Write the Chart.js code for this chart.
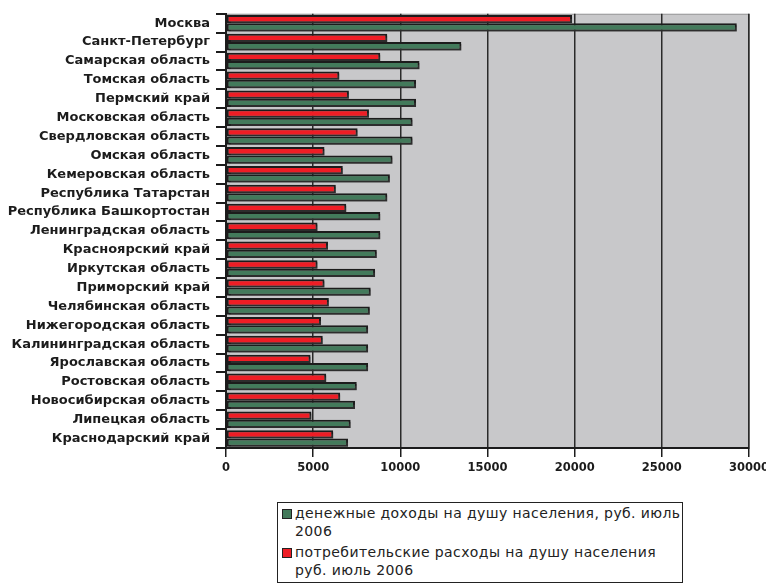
<!DOCTYPE html>
<html>
<head>
<meta charset="utf-8">
<script src="https://cdn.jsdelivr.net/npm/chart.js@4/dist/chart.umd.min.js"></script>
<style>
    body { margin: 0; background: #fff; }
    #wrap { position: relative; width: 766px; height: 586px; }
    #legend {
        position: absolute; left: 277px; top: 502px; width: 400px; height: 76px;
        border: 1.5px solid #222; background: #fff; padding: 1px 0 2px 4px;
        font: 14px "DejaVu Sans", sans-serif; letter-spacing: 0.4px; color: #222; line-height: 18px;
    }
    #legend .item { display: flex; align-items: flex-start; margin: 0 0 3px 0; }
    #legend .sw { width: 8px; height: 8px; border: 1px solid #222; margin: 5px 3px 0 0; flex: none; }
</style>
</head>
<body>
<div id="wrap">
    <canvas id="chart" width="766" height="586"></canvas>
    <div id="legend"></div>
</div>
<script>
'use strict';

const regions = [
    'Москва', 'Санкт-Петербург', 'Самарская область', 'Томская область', 'Пермский край',
    'Московская область', 'Свердловская область', 'Омская область', 'Кемеровская область',
    'Республика Татарстан', 'Республика Башкортостан', 'Ленинградская область',
    'Красноярский край', 'Иркутская область', 'Приморский край', 'Челябинская область',
    'Нижегородская область', 'Калининградская область', 'Ярославская область',
    'Ростовская область', 'Новосибирская область', 'Липецкая область', 'Краснодарский край'
];

// денежные доходы на душу населения
const income = [29300, 13500, 11100, 10900, 10900, 10700, 10700, 9550, 9400, 9250, 8850,
    8850, 8650, 8550, 8300, 8250, 8150, 8150, 8150, 7500, 7400, 7150, 7000];

// потребительские расходы на душу населения
const spending = [19850, 9250, 8850, 6500, 7050, 8200, 7550, 5650, 6700, 6300, 6900,
    5250, 5850, 5250, 5650, 5900, 5450, 5550, 4850, 5750, 6550, 4900, 6150];

const xTicks = [0, 5000, 10000, 15000, 20000, 25000, 30000];

const incomeLabel = 'денежные доходы на душу населения, руб. июль 2006';
const spendingLabel = 'потребительские расходы на душу населения руб. июль 2006';

const colors = {
    green: '#437a5b',
    red: '#ee1d25',
    border: '#1c1c1c',
    plotBg: '#c8c8ca'
};

// gray plot background + bar shadows
const plotBackground = {
    id: 'plotBackground',
    beforeDraw: function (chart) {
        const a = chart.chartArea;
        const ctx = chart.ctx;
        ctx.save();
        ctx.fillStyle = colors.plotBg;
        ctx.fillRect(a.left, a.top, a.right - a.left, a.bottom - a.top);
        ctx.strokeStyle = '#9a9a9a';
        ctx.lineWidth = 1;
        ctx.strokeRect(a.left + 0.5, a.top + 0.5, a.right - a.left, a.bottom - a.top);
        ctx.restore();
    },
    beforeDatasetsDraw: function (chart) {
        const ctx = chart.ctx;
        ctx.save();
        ctx.shadowColor = 'rgba(60,60,60,0.55)';
        ctx.shadowOffsetX = 2;
        ctx.shadowOffsetY = 2;
        ctx.shadowBlur = 0;
    },
    afterDatasetsDraw: function (chart) {
        chart.ctx.restore();
    }
};

const chart = new Chart(document.getElementById('chart'), {
    type: 'bar',
    data: {
        labels: regions,
        datasets: [
            {
                label: spendingLabel,
                data: spending,
                backgroundColor: colors.red,
                borderColor: colors.border,
                borderWidth: 2,
                borderSkipped: false
            },
            {
                label: incomeLabel,
                data: income,
                backgroundColor: colors.green,
                borderColor: colors.border,
                borderWidth: 2,
                borderSkipped: false
            }
        ]
    },
    options: {
        indexAxis: 'y',
        responsive: false,
        animation: false,
        datasets: {
            bar: { categoryPercentage: 0.88, barPercentage: 1.0 }
        },
        layout: {
            padding: { top: 8, right: 0, bottom: 90, left: 0 }
        },
        scales: {
            x: {
                min: 0,
                max: 30000,
                afterBuildTicks: function (scale) {
                    scale.ticks = xTicks.map(v => ({ value: v }));
                },
                afterFit: function (scale) {
                    scale.height = 48;
                    scale.paddingRight = 17;
                },
                grid: {
                    color: '#2a2a2a',
                    lineWidth: 1.5,
                    tickLength: 9,
                    tickColor: '#1c1c1c'
                },
                border: { color: '#1c1c1c', width: 2 },
                ticks: {
                    color: '#1c1c1c',
                    padding: 4,
                    maxRotation: 0,
                    callback: function (value) { return String(value); },
                    font: { family: 'DejaVu Sans', size: 11.5, weight: 'bold' }
                }
            },
            y: {
                afterFit: function (scale) { scale.width = 226; },
                grid: {
                    drawOnChartArea: false,
                    offset: true,
                    tickLength: 10,
                    tickColor: '#1c1c1c',
                    lineWidth: 2
                },
                border: { color: '#1c1c1c', width: 2 },
                ticks: {
                    color: '#1c1c1c',
                    padding: 6,
                    autoSkip: false,
                    font: { family: 'DejaVu Sans', size: 13, weight: 'bold' }
                }
            }
        },
        plugins: {
            legend: { display: false },
            tooltip: { enabled: false }
        }
    },
    plugins: [plotBackground]
});

// legend box with wrapping text, income first
const legendEl = document.getElementById('legend');
[chart.data.datasets[1], chart.data.datasets[0]].forEach(function (ds) {
    const item = document.createElement('div');
    item.className = 'item';
    const sw = document.createElement('span');
    sw.className = 'sw';
    sw.style.background = ds.backgroundColor;
    const txt = document.createElement('span');
    txt.textContent = ds.label;
    item.appendChild(sw);
    item.appendChild(txt);
    legendEl.appendChild(item);
});
</script>
</body>
</html>
